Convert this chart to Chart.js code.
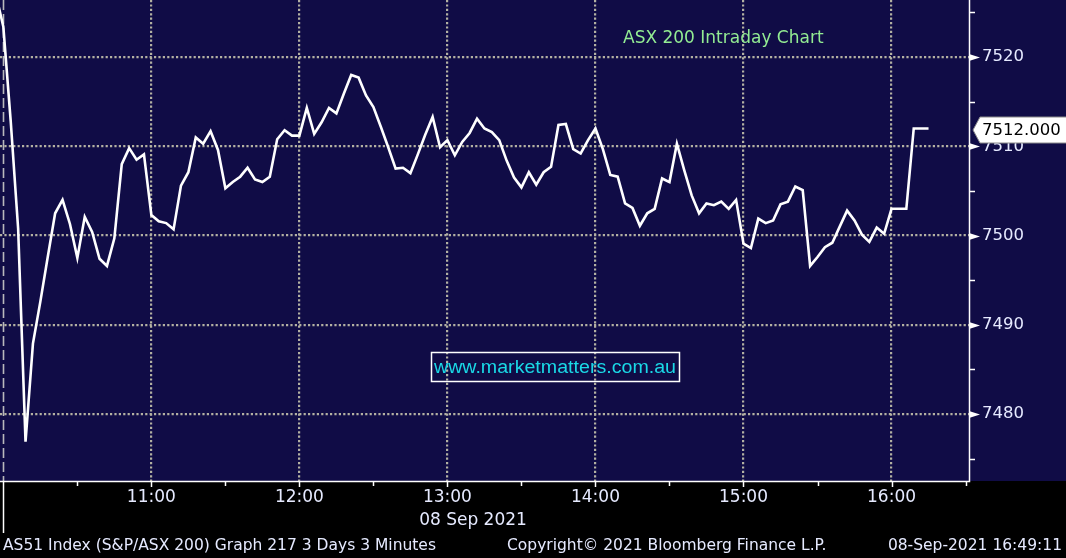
<!DOCTYPE html>
<html>
<head>
<meta charset="utf-8">
<script src="https://cdn.jsdelivr.net/npm/chart.js@4/dist/chart.umd.min.js"></script>
<style>
  html, body { margin: 0; padding: 0; background: #000; overflow: hidden; }
  #wrap { position: relative; width: 1066px; height: 558px; }
  canvas { display: block; }
</style>
</head>
<body>
<div id="wrap"><canvas id="c" width="1066" height="558"></canvas></div>
<script>
// ---- data (AS51, 08 Sep 2021, 3-minute bars starting 10:00) ----
const prevClose = 7527.0;              // last bar of the previous session
const barMinutes = 3;                  // bar interval
const values = [
  7523.4, 7512.8, 7500.8, 7476.9, 7487.9, 7492.6, 7497.6, 7502.5, 7504.0, 7501.3,
  7497.5, 7502.1, 7500.4, 7497.4, 7496.6, 7499.7, 7508.0, 7509.8, 7508.5, 7509.1,
  7502.3, 7501.6, 7501.4, 7500.7, 7505.6, 7507.1, 7511.0, 7510.3, 7511.7, 7509.6,
  7505.3, 7506.0, 7506.6, 7507.6, 7506.3, 7506.0, 7506.6, 7510.8, 7511.8, 7511.2,
  7511.2, 7514.3, 7511.4, 7512.7, 7514.3, 7513.7, 7515.9, 7518.0, 7517.7, 7515.7,
  7514.4, 7512.2, 7509.9, 7507.5, 7507.6, 7507.0, 7509.1, 7511.3, 7513.3, 7509.9,
  7510.7, 7509.0, 7510.5, 7511.5, 7513.1, 7512.0, 7511.6, 7510.7, 7508.4, 7506.5,
  7505.4, 7507.1, 7505.7, 7507.1, 7507.7, 7512.4, 7512.5, 7509.7, 7509.2, 7510.7,
  7512.0, 7509.7, 7506.8, 7506.6, 7503.6, 7503.1, 7501.1, 7502.5, 7503.0, 7506.4,
  7506.0, 7510.3, 7507.3, 7504.5, 7502.5, 7503.6, 7503.4, 7503.8, 7503.0, 7504.0,
  7499.1, 7498.6, 7501.9, 7501.4, 7501.7, 7503.5, 7503.8, 7505.5, 7505.1, 7496.6,
  7497.6, 7498.7, 7499.2, 7501.0, 7502.8, 7501.7, 7500.1, 7499.3, 7500.9, 7500.2,
  7503.0, 7503.0, 7503.0, 7512.0, 7512.0, 7512.0
];
const hourTickMinutes = [60, 120, 180, 240, 300, 360];        // minutes after 10:00
const hourTickLabels  = ['11:00', '12:00', '13:00', '14:00', '15:00', '16:00'];
const yTickValues = [7480, 7490, 7500, 7510, 7520];
const dateLabel = '08 Sep 2021';
const chartTitle = 'ASX 200 Intraday Chart';
const watermark = 'www.marketmatters.com.au';
const footerLeft = 'AS51 Index (S&P/ASX 200) Graph 217 3 Days 3 Minutes';
const footerMid = 'Copyright\u00A9 2021 Bloomberg Finance L.P.';
const footerRight = '08-Sep-2021 16:49:11';

// ---- styles ----
const NAVY = '#100c46';
const DOT = '#b3b1a2';
const TXT = '#e6eaff';
const FONT = '"DejaVu Sans", Verdana, sans-serif';
const WFONT = '"Liberation Sans", Arial, sans-serif';

const points = [{ x: -barMinutes, y: prevClose }].concat(
  values.map((v, i) => ({ x: i * barMinutes, y: v }))
);

const deco = {
  id: 'deco',
  beforeDraw(chart) {
    const { ctx, chartArea: a, width, height } = chart;
    ctx.save();
    ctx.fillStyle = '#000';
    ctx.fillRect(0, 0, width, height);
    ctx.fillStyle = NAVY;
    ctx.fillRect(0, 0, width, a.bottom);
    ctx.restore();
  },
  beforeDatasetsDraw(chart) {
    const { ctx, chartArea: a, scales: { x } } = chart;
    const x0 = Math.round(x.getPixelForValue(0)) + 0.5;
    ctx.save();
    ctx.strokeStyle = '#b8b8bc';
    ctx.lineWidth = 1.6;
    ctx.setLineDash([10, 4]);
    ctx.beginPath();
    ctx.moveTo(x0, a.top);
    ctx.lineTo(x0, a.bottom);
    ctx.stroke();
    ctx.restore();
  },
  afterDraw(chart) {
    const { ctx, chartArea: a, scales: { x, y }, width } = chart;
    ctx.save();
    // axis lines
    ctx.strokeStyle = '#ffffff';
    ctx.lineWidth = 1.5;
    ctx.beginPath();
    ctx.moveTo(a.right + 0.5, a.top);
    ctx.lineTo(a.right + 0.5, a.bottom + 0.5);
    ctx.lineTo(a.left, a.bottom + 0.5);
    ctx.stroke();
    // session separator below the axis
    const x0 = Math.round(x.getPixelForValue(0)) + 0.5;
    ctx.beginPath();
    ctx.moveTo(x0, a.bottom);
    ctx.lineTo(x0, a.bottom + 52);
    ctx.stroke();
    // x tick marks
    x.ticks.forEach(t => {
      if (t.value <= 0) return;
      const px = Math.round(x.getPixelForValue(t.value)) + 0.5;
      const len = hourTickMinutes.includes(t.value) ? 6 : 5;
      ctx.beginPath();
      ctx.moveTo(px, a.bottom);
      ctx.lineTo(px, a.bottom + len);
      ctx.stroke();
    });
    // y ticks: minor marks and major triangles
    y.ticks.forEach(t => {
      const py = Math.round(y.getPixelForValue(t.value)) + 0.5;
      if (yTickValues.includes(t.value)) {
        ctx.fillStyle = '#ffffff';
        ctx.beginPath();
        ctx.moveTo(a.right, py - 3.5);
        ctx.lineTo(a.right + 11, py);
        ctx.lineTo(a.right, py + 3.5);
        ctx.closePath();
        ctx.fill();
      } else {
        ctx.beginPath();
        ctx.moveTo(a.right, py);
        ctx.lineTo(a.right + 6, py);
        ctx.stroke();
      }
    });
    // last value tag
    const last = values[values.length - 1];
    const ly = y.getPixelForValue(last) + 1.5;
    ctx.fillStyle = '#ffffff';
    ctx.strokeStyle = '#8a8a8a';
    ctx.lineWidth = 1;
    ctx.beginPath();
    ctx.moveTo(a.right + 4, ly);
    ctx.lineTo(a.right + 11, ly - 13);
    ctx.lineTo(width + 2, ly - 13);
    ctx.lineTo(width + 2, ly + 13);
    ctx.lineTo(a.right + 11, ly + 13);
    ctx.closePath();
    ctx.fill();
    ctx.stroke();
    ctx.fillStyle = '#000';
    ctx.font = '16.5px ' + FONT;
    ctx.textBaseline = 'middle';
    ctx.textAlign = 'left';
    ctx.fillText(last.toFixed(3), a.right + 13, ly + 1);

    // title
    ctx.fillStyle = '#93ec93';
    ctx.font = '17px ' + FONT;
    ctx.textAlign = 'left';
    ctx.fillText(chartTitle, 623, 39);

    // watermark
    ctx.font = '18px ' + WFONT;
    const ww = ctx.measureText(watermark).width;
    const wx = 555, wy = 367;
    ctx.strokeStyle = '#ffffff';
    ctx.lineWidth = 1.5;
    ctx.strokeRect(Math.round(wx - 124) + 0.5, wy - 14.5, 248, 29);
    ctx.fillStyle = '#1ad8e6';
    ctx.textAlign = 'center';
    ctx.save();
    ctx.translate(wx, wy + 1);
    ctx.scale(242 / ww, 1);
    ctx.fillText(watermark, 0, 0);
    ctx.restore();

    // date under the time axis
    ctx.fillStyle = TXT;
    ctx.font = '17px ' + FONT;
    ctx.textAlign = 'center';
    ctx.fillText(dateLabel, 473, 521);

    // footer
    ctx.font = '15.5px ' + FONT;
    ctx.textAlign = 'left';
    ctx.fillText(footerLeft, 3, 546);
    ctx.fillText(footerMid, 507, 546);
    ctx.textAlign = 'right';
    ctx.fillText(footerRight, 1062, 546);
    ctx.restore();
  }
};

function noPad(s) { s.paddingTop = 0; s.paddingBottom = 0; s.paddingLeft = 0; s.paddingRight = 0; }

new Chart(document.getElementById('c'), {
  type: 'line',
  data: {
    datasets: [{
      data: points,
      borderColor: '#ffffff',
      borderWidth: 2.6,
      pointRadius: 0,
      tension: 0,
      fill: false
    }]
  },
  options: {
    responsive: false,
    animation: false,
    devicePixelRatio: 1,
    layout: { padding: 0 },
    plugins: { legend: { display: false }, tooltip: { enabled: false }, title: { display: false } },
    scales: {
      x: {
        type: 'linear',
        position: 'bottom',
        min: -1.35,
        max: 391.4,
        afterFit: s => { s.height = 77; noPad(s); },
        border: { display: false, dash: [2.2, 2.2] },
        grid: {
          drawTicks: false,
          lineWidth: 2.2,
          color: c => (c.tick && hourTickMinutes.includes(c.tick.value)) ? DOT : 'rgba(0,0,0,0)'
        },
        ticks: {
          stepSize: 30,
          includeBounds: false,
          autoSkip: false,
          maxRotation: 0,
          padding: 6,
          color: TXT,
          font: { family: FONT, size: 17 },
          callback: v => { const i = hourTickMinutes.indexOf(v); return i >= 0 ? hourTickLabels[i] : ''; }
        }
      },
      y: {
        type: 'linear',
        position: 'right',
        min: 7472.5,
        max: 7526.4,
        afterFit: s => { s.width = 97; noPad(s); },
        border: { display: false, dash: [2.2, 2.2] },
        grid: {
          drawTicks: false,
          lineWidth: 2.2,
          color: c => (c.tick && yTickValues.includes(c.tick.value)) ? DOT : 'rgba(0,0,0,0)'
        },
        ticks: {
          stepSize: 5,
          includeBounds: false,
          padding: 13,
          color: TXT,
          font: { family: FONT, size: 16.5 },
          callback: v => yTickValues.includes(v) ? String(v) : ''
        }
      }
    }
  },
  plugins: [deco]
});
</script>
</body>
</html>
